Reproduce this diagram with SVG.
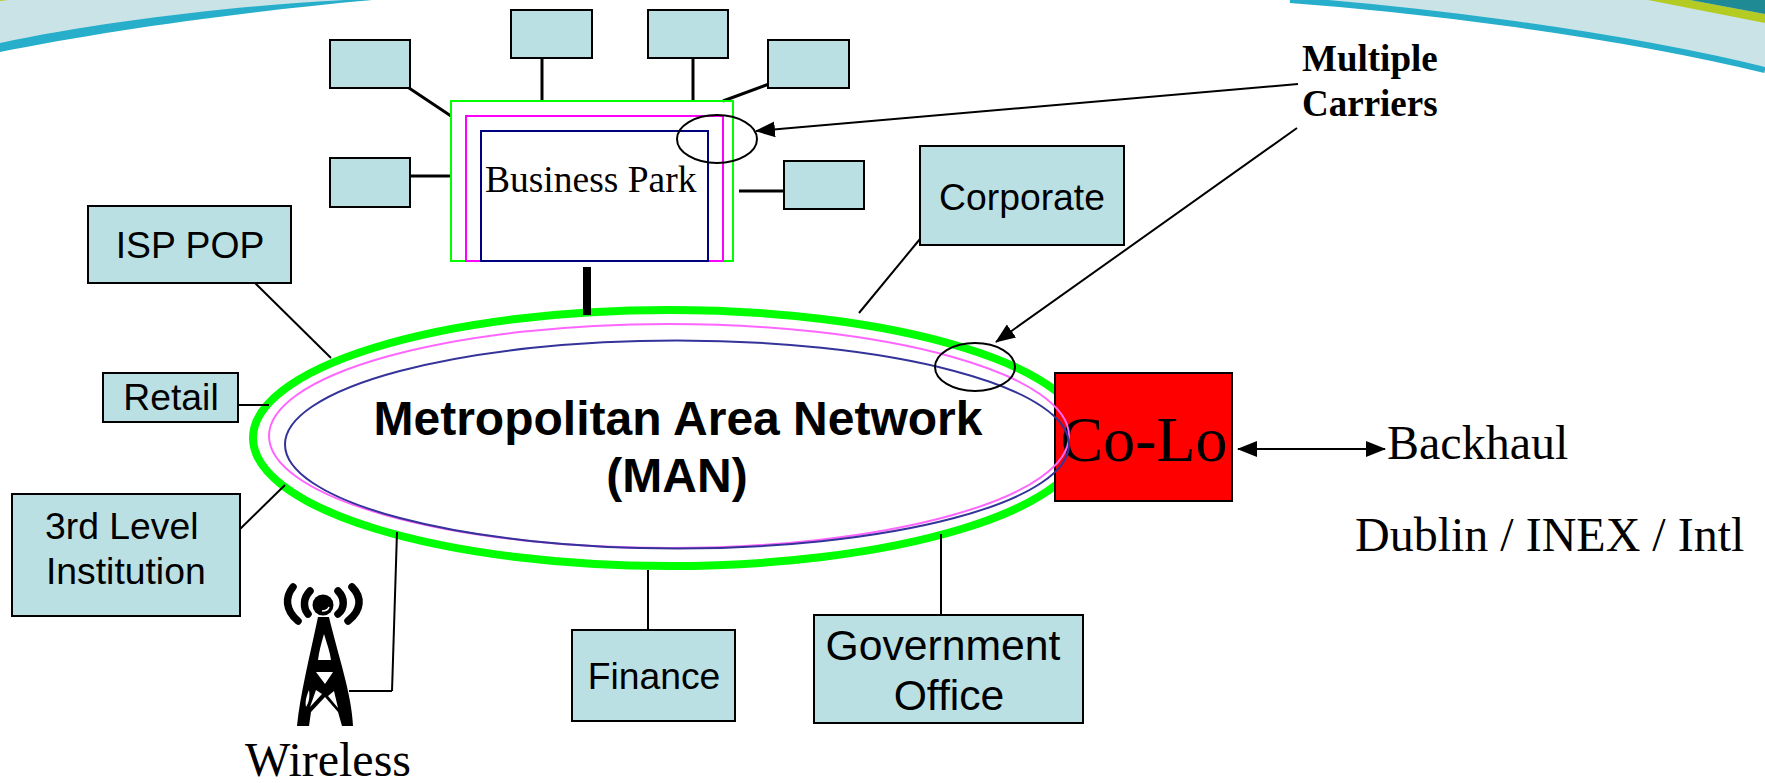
<svg xmlns="http://www.w3.org/2000/svg" width="1765" height="783" viewBox="0 0 1765 783">
<style>
.box{fill:#bbe0e3;stroke:#000;stroke-width:2}
.c{fill:none;stroke:#000;stroke-width:2}
.c3{fill:none;stroke:#000;stroke-width:3}
.s{font-family:"Liberation Sans",Arial,sans-serif;fill:#000}
.t{font-family:"Liberation Serif","Times New Roman",serif;fill:#000}
.m{text-anchor:middle}
.w{fill:none;stroke:#000;stroke-linecap:round}
</style>
<defs>
<marker id="a" markerUnits="userSpaceOnUse" markerWidth="20" markerHeight="16" refX="19" refY="8" orient="auto-start-reverse"><path d="M0 0L20 8L0 16z" fill="#000"/></marker>
</defs>
<g id="banner">
<path d="M0 0H372C230 9 100 27 0 48z" fill="#c9e3e7"/>
<path d="M1285 0H1765V70C1600 30 1400 8 1285 0z" fill="#c9e3e7"/>
<path d="M0 43C100 22 230 6 345 0H372C230 13 100 32 0 52z" fill="#27aecb"/>
<path d="M1290 0C1400 8 1600 30 1765 70" fill="none" stroke="#27aecb" stroke-width="6"/>
<path d="M1648 0L1765 23V14L1690 0z" fill="#b4cb23"/>
<path d="M1690 0L1765 14V0z" fill="#1f8a93"/>
<path d="M0 1L8 0H0z" fill="#b4cb23"/>
</g>
<g id="man">
<ellipse cx="669" cy="438" rx="416" ry="128" fill="none" stroke="#00ff00" stroke-width="8"/>
</g>
<g id="connectors">
<line class="c3" x1="406" y1="86" x2="451" y2="116"/>
<line class="c3" x1="542" y1="58" x2="542" y2="101"/>
<line class="c3" x1="693" y1="58" x2="693" y2="101"/>
<line class="c3" x1="723" y1="101" x2="769" y2="84"/>
<line class="c3" x1="409" y1="176" x2="451" y2="176"/>
<line class="c3" x1="739" y1="191" x2="784" y2="191"/>
<line x1="587" y1="267" x2="587" y2="315" stroke="#000" stroke-width="8"/>
<line class="c" x1="255" y1="283" x2="331" y2="358"/>
<line class="c" x1="238" y1="405" x2="269" y2="405"/>
<line class="c" x1="237" y1="532" x2="285" y2="485"/>
<line class="c" x1="397" y1="532" x2="392" y2="691"/>
<line class="c" x1="392" y1="691" x2="349" y2="691"/>
<line class="c" x1="648" y1="570" x2="648" y2="630"/>
<line class="c" x1="941" y1="534" x2="941" y2="615"/>
<line class="c" x1="859" y1="313" x2="920" y2="239"/>
<line class="c" x1="1298" y1="84" x2="756" y2="131" marker-end="url(#a)"/>
<line class="c" x1="1297" y1="128" x2="996" y2="342" marker-end="url(#a)"/>
<line class="c" x1="1238" y1="449" x2="1385" y2="449" marker-start="url(#a)" marker-end="url(#a)"/>
</g>
<g id="colo">
<rect x="1055" y="373" width="177" height="128" fill="#ff0000" stroke="#000" stroke-width="2"/>
<text class="t m" x="1144" y="461" font-size="64">Co-Lo</text>
</g>
<g id="man-rings">
<ellipse cx="669" cy="436" rx="400" ry="112" fill="none" stroke="#ff66ff" stroke-width="2"/>
<ellipse cx="677" cy="444.500" rx="392" ry="104" fill="none" stroke="#333399" stroke-width="2"/>
<text class="s m" x="678" y="435" font-size="48" font-weight="bold">Metropolitan Area Network</text>
<text class="s m" x="677" y="492" font-size="48" font-weight="bold">(MAN)</text>
</g>
<g id="carrier-ring">
<ellipse cx="975" cy="367" rx="40" ry="24" class="c"/>
</g>
<g id="business-park">
<rect x="451" y="101" width="282" height="160" fill="none" stroke="#00ff00" stroke-width="2"/>
<rect x="466" y="116" width="257" height="145" fill="none" stroke="#ff00ff" stroke-width="2"/>
<rect x="481" y="131" width="227" height="130" fill="none" stroke="#000080" stroke-width="2"/>
<text class="t" x="485" y="192" font-size="37.500">Business Park</text>
<ellipse cx="717" cy="139" rx="40" ry="24" class="c"/>
</g>
<g id="park-box-1"><rect class="box" x="330" y="40" width="80" height="48"/></g>
<g id="park-box-2"><rect class="box" x="511" y="10" width="81" height="48"/></g>
<g id="park-box-3"><rect class="box" x="648" y="10" width="80" height="48"/></g>
<g id="park-box-4"><rect class="box" x="768" y="40" width="81" height="48"/></g>
<g id="park-box-5"><rect class="box" x="330" y="158" width="80" height="49"/></g>
<g id="park-box-6"><rect class="box" x="784" y="161" width="80" height="48"/></g>
<g id="isp-pop"><rect class="box" x="88" y="206" width="203" height="77"/><text class="s m" x="190" y="258" font-size="37.300">ISP POP</text></g>
<g id="retail"><rect class="box" x="103" y="373" width="135" height="49"/><text class="s m" x="171" y="410" font-size="37.300">Retail</text></g>
<g id="institution"><rect class="box" x="12" y="494" width="228" height="122"/><text class="s" x="45" y="539" font-size="37.300">3rd Level</text><text class="s" x="46" y="584" font-size="37.300">Institution</text></g>
<g id="corporate"><rect class="box" x="920" y="146" width="204" height="99"/><text class="s m" x="1022" y="210" font-size="37.300">Corporate</text></g>
<g id="finance"><rect class="box" x="572" y="630" width="163" height="91"/><text class="s m" x="654" y="689" font-size="37.300">Finance</text></g>
<g id="government"><rect class="box" x="814" y="615" width="269" height="108"/><text class="s m" x="943" y="660" font-size="42.700">Government</text><text class="s m" x="949" y="710" font-size="42.700">Office</text></g>
<g id="wireless">
<path class="w" stroke-width="7.500" d="M293 587C285 597 285 610 298 621M310 591C303 598 303 608 308 614M352 587C362 597 362 610 348 621M338 591C345 598 345 608 338 614"/>
<circle cx="323" cy="605" r="10.500" fill="#000"/>
<path d="M322 611C325 611 328 610 329 607" fill="none" stroke="#fff" stroke-width="1.500"/>
<path d="M318 617H329C338 655 352 695 353 726H342L338 712L325 697L311 712L309 726H297C300 695 310 655 318 617z" fill="#000"/>
<path d="M324 634C321 644 319 652 318 660H331C330 652 327 644 324 634zM316 672L325 684L333 672zM316 690L310 707L322 694zM334 691L328 696L338 708zM309 690C306 697 305 702 306 707C309 702 310 697 309 690z" fill="#fff"/>
<text class="t" x="245" y="776" font-size="48">Wireless</text>
</g>
<g id="labels">
<text class="t" x="1302" y="71" font-size="37" font-weight="bold">Multiple</text>
<text class="t" x="1302" y="116" font-size="37" font-weight="bold">Carriers</text>
<text class="t" x="1387" y="459" font-size="48">Backhaul</text>
<text class="t" x="1355" y="551" font-size="48">Dublin / INEX / Intl</text>
</g>
</svg>
